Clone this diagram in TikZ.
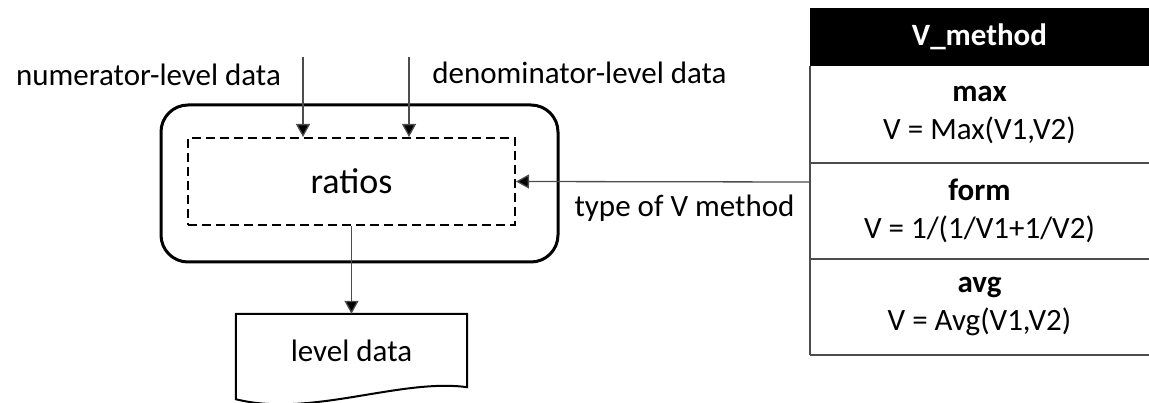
\documentclass[tikz,border=0pt]{standalone}
\usepackage{fontspec}
\setmainfont{Carlito}
\usetikzlibrary{arrows.meta,calc}

\tikzset{
  txt/.style={font=\fontsize{31}{38}\selectfont, inner sep=0pt},
  feed/.style={draw=black!70, line width=1.3pt, -{Triangle[width=14pt,length=13pt,fill=black]}},
  rowline/.style={draw=black!70, line width=1.5pt},
  vrow/.style={txt, align=center, minimum width=339pt, minimum height=96pt}
}

\begin{document}
\begin{tikzpicture}[x=1pt, y=-1pt]
                \useasboundingbox (0,0) rectangle (1149,403);
                % process box
                \node [draw, line width=3pt, rounded corners=27pt, minimum width=397pt, minimum height=157pt] (frame) at (359.5,183.5) {};
                \node [draw, line width=2pt, dash pattern=on 9pt off 5pt, minimum width=327pt, minimum height=87pt, txt, font=\fontsize{36}{40}\selectfont] (ratios) at (351.5,181.5) {ratios};
                % inputs
                \coordinate (numin) at (303,57);
                \coordinate (denin) at (409,57);
                \node [txt] (numlabel) at (148.5,75) {numerator-level data};
                \node [txt] (denlabel) at (579.5,73) {denominator-level data};
                \draw [feed] (numin) -- (ratios.north -| numin);
                \draw [feed] (denin) -- (ratios.north -| denin);
                % output document
                \node [txt, minimum width=231pt, minimum height=73pt] (leveldata) at (351.5,350.5) {level data};
                \draw [line width=2pt] (leveldata.north west) -- (leveldata.north east) -- (leveldata.south east)
                      .. controls (400,378) and (310,418) .. ($(leveldata.south west)+(0,12)$) -- cycle;
                \draw [feed] (ratios.south) -- (leveldata.north);
                % V_method table
                \node [txt, fill=black, text=white, font=\fontsize{31}{38}\selectfont\bfseries, minimum width=339pt, minimum height=58pt] (vhead) at (979.5,37) {V\_method};
                \node [vrow, minimum height=97pt] (vmax) at (979.5,114.5) {\textbf{max}\\V = Max(V1,V2)};
                \node [vrow] (vform) at (979.5,211) {\textbf{form}\\V = 1/(1/V1+1/V2)};
                \node [vrow] (vavg) at (979.5,307) {\textbf{avg}\\V = Avg(V1,V2)};
                \draw [rowline] (vmax.south west) -- (vmax.south east);
                \draw [rowline] (vform.south west) -- (vform.south east);
                \draw [rowline] (vavg.south west) -- (vavg.south east);
                \draw [rowline] (vhead.south west) -- (vavg.south west);
                % method type input
                \coordinate (typein) at (810,182);
                \draw [feed] (typein) -- (ratios.east);
                \node [txt] (typelabel) at (684.5,208) {type of V method};
            \end{tikzpicture}
\end{document}
